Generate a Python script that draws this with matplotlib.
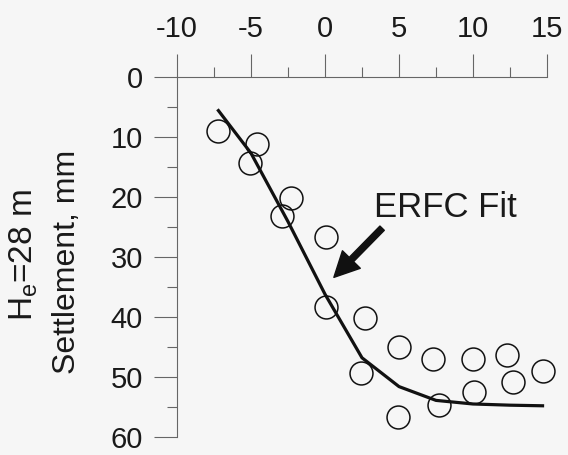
import matplotlib
matplotlib.use("Agg")
import matplotlib.pyplot as plt
from matplotlib.ticker import MultipleLocator

plt.rcParams['font.family'] = ['Liberation Sans', 'DejaVu Sans']
plt.rcParams['mathtext.fontset'] = 'custom'
plt.rcParams['mathtext.rm'] = 'Liberation Sans'
plt.rcParams['mathtext.it'] = 'Liberation Sans'

# Observed settlements (distance, settlement in mm)
x_obs = [-7.2, -4.6, -5.1, -2.3, -2.9, 0.1, 0.1, 2.7, 5.0, 7.3, 10.0, 12.3, 14.7, 12.7, 10.1, 2.4, 7.7, 4.9]
y_obs = [9.0, 11.1, 14.3, 20.1, 23.1, 26.7, 38.4, 40.2, 45.0, 47.0, 47.0, 46.3, 49.0, 50.8, 52.5, 49.3, 54.6, 56.6]

# ERFC fit curve
x_fit = [-7.2, -5, -2.5, 0, 2.5, 5, 7.5, 10, 12.5, 14.7]
y_fit = [5.6, 12.7, 24.1, 36.2, 46.8, 51.6, 53.9, 54.5, 54.7, 54.8]

x_ticks = [-10, -5, 0, 5, 10, 15]
y_ticks = [0, 10, 20, 30, 40, 50, 60]

bg = '#f6f6f6'
fig = plt.figure(figsize=(5.68, 4.55), dpi=100, facecolor=bg)
ax = fig.add_axes([0.3116, 0.0396, 0.6514, 0.7912])
ax.set_facecolor(bg)

ax.plot(x_fit, y_fit, color='#111111', lw=2.3, clip_on=False, zorder=3)
ax.plot(x_obs, y_obs, linestyle='none', marker='o', markersize=16.5,
        markerfacecolor='none', markeredgecolor='#111111', markeredgewidth=1.1,
        clip_on=False, zorder=4)

ax.set_xlim(-10, 15)
ax.set_ylim(60, 0)

for s in ['right', 'bottom']:
    ax.spines[s].set_visible(False)
for s in ['left', 'top']:
    ax.spines[s].set_color('#666666')
    ax.spines[s].set_linewidth(0.8)

ax.xaxis.tick_top()
ax.set_xticks(x_ticks)
ax.set_xticklabels([str(v) for v in x_ticks])
ax.xaxis.set_minor_locator(MultipleLocator(2.5))
ax.set_yticks(y_ticks)
ax.set_yticklabels([str(v) for v in y_ticks])
ax.yaxis.set_minor_locator(MultipleLocator(5))

ax.tick_params(axis='both', which='major', length=16.5, width=0.8, color='#666666',
               labelsize=21, labelcolor='#1a1a1a', direction='out')
ax.tick_params(axis='both', which='minor', length=7.5, width=0.8, color='#666666',
               direction='out')
ax.tick_params(axis='x', which='major', pad=8)
ax.tick_params(axis='y', which='major', pad=8)

ax.text(3.32, 23.4, 'ERFC Fit', fontsize=25, color='#1a1a1a', ha='left', va='baseline')
ax.annotate('', xy=(0.6, 33.4), xytext=(3.86, 25.2),
            arrowprops=dict(arrowstyle='simple,head_length=0.9,head_width=0.9,tail_width=0.22',
                            fc='#111111', ec='#111111', mutation_scale=20, shrinkA=0, shrinkB=0))

fig.text(75/568, 1 - 262/455, 'Settlement, mm', rotation=90, fontsize=23,
         color='#1a1a1a', ha='center', va='baseline', rotation_mode='anchor')
fig.text(33/568, 1 - 255/455, r'H$_\mathregular{e}$=28 m', rotation=90, fontsize=24,
         color='#1a1a1a', ha='center', va='baseline', rotation_mode='anchor')

fig.savefig('out.png', dpi=100, facecolor=bg)
